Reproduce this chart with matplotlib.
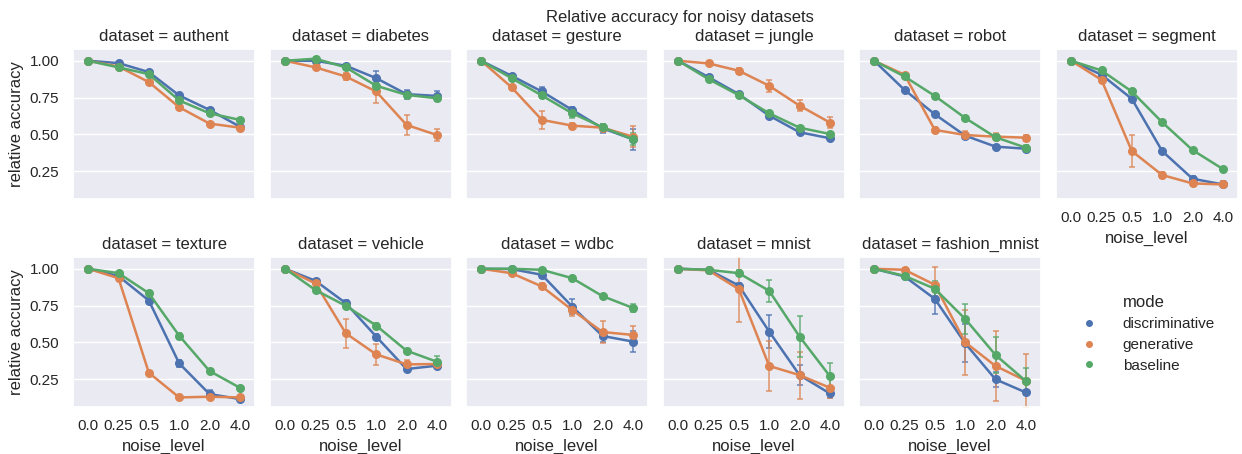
import matplotlib
matplotlib.use("Agg")
import matplotlib.pyplot as plt
import seaborn as sns
from matplotlib.lines import Line2D

noise_levels = ["0.0", "0.25", "0.5", "1.0", "2.0", "4.0"]
datasets = ["authent", "diabetes", "gesture", "jungle", "robot", "segment",
            "texture", "vehicle", "wdbc", "mnist", "fashion_mnist"]
modes = ["discriminative", "generative", "baseline"]

# mean relative accuracy per dataset, one list per noise level
disc = {
    "authent": [1.0, 0.984, 0.923, 0.764, 0.666, 0.552],
    "diabetes": [1.0, 1.0, 0.966, 0.882, 0.773, 0.761],
    "gesture": [1.0, 0.898, 0.791, 0.666, 0.541, 0.466],
    "jungle": [1.0, 0.889, 0.773, 0.627, 0.514, 0.473],
    "robot": [1.0, 0.802, 0.636, 0.491, 0.416, 0.402],
    "segment": [1.0, 0.905, 0.741, 0.386, 0.198, 0.159],
    "texture": [1.0, 0.95, 0.784, 0.357, 0.148, 0.114],
    "vehicle": [1.0, 0.918, 0.766, 0.539, 0.318, 0.341],
    "wdbc": [1.0, 0.998, 0.959, 0.743, 0.543, 0.505],
    "mnist": [1.0, 0.993, 0.886, 0.573, 0.277, 0.152],
    "fashion_mnist": [1.0, 0.948, 0.795, 0.493, 0.248, 0.159],
}
disc_err = {
    "authent": [0, .01, .01, .01, .01, .01],
    "diabetes": [0, .02, .01, .045, .03, .035],
    "gesture": [0, .015, .03, .02, .03, .07],
    "jungle": [0, .01, .01, .01, .01, .01],
    "robot": [0, .01, .01, .01, .01, .01],
    "segment": [0, .01, .01, .015, .02, .015],
    "texture": [0, .01, .02, .025, .03, .01],
    "vehicle": [0, .015, .02, .015, .015, .01],
    "wdbc": [0, .015, .02, .05, .04, .07],
    "mnist": [0, .01, .02, .11, .07, .03],
    "fashion_mnist": [0, .01, .1, .13, .05, .02],
}
gen = {
    "authent": [1.0, 0.961, 0.855, 0.684, 0.573, 0.545],
    "diabetes": [1.0, 0.955, 0.893, 0.791, 0.564, 0.495],
    "gesture": [1.0, 0.82, 0.598, 0.559, 0.545, 0.484],
    "jungle": [1.0, 0.982, 0.932, 0.83, 0.695, 0.58],
    "robot": [1.0, 0.905, 0.53, 0.495, 0.484, 0.477],
    "segment": [1.0, 0.870, 0.386, 0.223, 0.166, 0.159],
    "texture": [1.0, 0.936, 0.293, 0.125, 0.13, 0.125],
    "vehicle": [1.0, 0.90, 0.561, 0.418, 0.35, 0.352],
    "wdbc": [1.0, 0.970, 0.880, 0.720, 0.570, 0.55],
    "mnist": [1.0, 0.989, 0.861, 0.339, 0.277, 0.191],
    "fashion_mnist": [1.0, 0.993, 0.891, 0.50, 0.339, 0.239],
}
gen_err = {
    "authent": [0, .01, .01, .01, .01, .01],
    "diabetes": [0, .01, .025, .08, .07, .04],
    "gesture": [0, .015, .06, .02, .015, .07],
    "jungle": [0, .01, .02, .04, .04, .035],
    "robot": [0, .01, .02, .03, .025, .02],
    "segment": [0, .02, .11, .02, .02, .02],
    "texture": [0, .02, .015, .01, .015, .01],
    "vehicle": [0, .02, .1, .07, .03, .01],
    "wdbc": [0, .01, .02, .04, .075, .06],
    "mnist": [0, .01, .22, .17, .16, .07],
    "fashion_mnist": [0, .01, .12, .22, .24, .18],
}
base = {
    "authent": [1.0, 0.955, 0.909, 0.730, 0.643, 0.598],
    "diabetes": [1.0, 1.014, 0.955, 0.83, 0.768, 0.745],
    "gesture": [1.0, 0.882, 0.764, 0.643, 0.548, 0.466],
    "jungle": [1.0, 0.875, 0.766, 0.643, 0.545, 0.502],
    "robot": [1.0, 0.893, 0.761, 0.611, 0.48, 0.409],
    "segment": [1.0, 0.934, 0.791, 0.582, 0.393, 0.264],
    "texture": [1.0, 0.970, 0.834, 0.545, 0.305, 0.191],
    "vehicle": [1.0, 0.855, 0.748, 0.614, 0.443, 0.368],
    "wdbc": [1.0, 1.0, 0.993, 0.936, 0.814, 0.734],
    "mnist": [1.0, 0.993, 0.970, 0.85, 0.539, 0.27],
    "fashion_mnist": [1.0, 0.952, 0.864, 0.659, 0.414, 0.236],
}
base_err = {
    "authent": [0, .01, .01, .01, .01, .01],
    "diabetes": [0, .015, .01, .02, .02, .02],
    "gesture": [0, .015, .02, .03, .02, .04],
    "jungle": [0, .01, .01, .01, .01, .01],
    "robot": [0, .01, .01, .015, .02, .02],
    "segment": [0, .01, .01, .01, .01, .01],
    "texture": [0, .01, .015, .02, .01, .01],
    "vehicle": [0, .02, .01, .02, .01, .04],
    "wdbc": [0, .01, .01, .01, .01, .025],
    "mnist": [0, .01, .02, .075, .14, .09],
    "fashion_mnist": [0, .01, .05, .1, .125, .09],
}

sns.set_theme(style="darkgrid", context="notebook")
plt.rcParams["font.family"] = ["Liberation Sans", "DejaVu Sans"]
plt.rcParams["xtick.major.size"] = 0
plt.rcParams["ytick.major.size"] = 0
plt.rcParams["xtick.major.pad"] = 8.5
plt.rcParams["ytick.major.pad"] = 10
colors = sns.color_palette("deep")[:3]
series = [(disc, disc_err), (gen, gen_err), (base, base_err)]

W, H = 1242, 454
fig = plt.figure(figsize=(W / 100, H / 100), dpi=100)

lefts = [73, 270, 466, 663, 859, 1056]
tops = [49, 257]
aw, ah = 182, 150
x = list(range(len(noise_levels)))

for i, name in enumerate(datasets):
    row, col = divmod(i, 6)
    ax = fig.add_axes([lefts[col] / W, 1 - (tops[row] + ah) / H, aw / W, ah / H])
    for (vals, errs), c in zip(series, colors):
        ax.errorbar(x, vals[name], yerr=errs[name], color=c, lw=1.8,
                    marker="o", ms=5.5, capsize=2.5, elinewidth=1.1,
                    capthick=1.1, ecolor=c + (0.85,))
    ax.set_xlim(-0.5, 5.5)
    ax.set_ylim(0.06, 1.08)
    ax.set_yticks([0.25, 0.5, 0.75, 1.0])
    ax.set_xticks(x)
    ax.set_xticklabels(noise_levels)
    ax.grid(False, axis="x")
    ax.set_title("dataset = " + name, fontsize=12)
    if col == 0:
        ax.set_ylabel("relative accuracy")
    else:
        ax.tick_params(labelleft=False)
    # x labels only where there is no panel below
    if row == 0 and col < 5:
        ax.tick_params(labelbottom=False)
    else:
        ax.set_xlabel("noise_level")

fig.suptitle("Relative accuracy for noisy datasets", x=680 / W, y=1 - 10 / H,
             va="top", fontsize=12)

handles = [Line2D([], [], color=c, marker="o", ls="", ms=4) for c in colors]
fig.legend(handles, modes, title="mode", loc="center left",
           bbox_to_anchor=(1060 / W, 1 - 334 / H), frameon=False,
           handletextpad=1.2, labelspacing=0.45)

fig.savefig("out.png", dpi=100)
